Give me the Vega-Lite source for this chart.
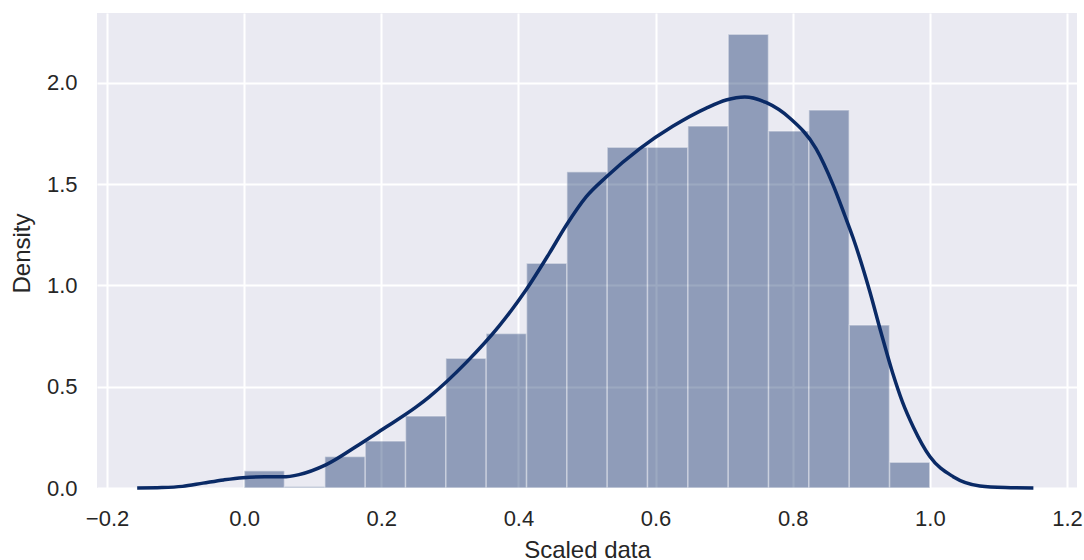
{
  "$schema": "https://vega.github.io/schema/vega-lite/v6.json",
  "width": 980,
  "height": 475,
  "autosize": {"type": "none"},
  "padding": {"left": 97, "top": 13, "right": 7, "bottom": 72},
  "background": "white",
  "config": {
    "view": {"fill": "#eaeaf2", "stroke": null},
    "font": "Liberation Sans",
    "axis": {
      "domain": false,
      "ticks": false,
      "tickSize": 0,
      "grid": true,
      "gridColor": "#ffffff",
      "gridWidth": 2,
      "labelFont": "Liberation Sans",
      "labelFontSize": 22,
      "labelColor": "#262626",
      "labelPadding": 20,
      "labelFlush": false,
      "titleFont": "Liberation Sans",
      "titleFontSize": 24,
      "titleFontWeight": "normal",
      "titleColor": "#262626"
    }
  },
  "datasets": {
    "bins": [
      {"bin_start": 0.0, "bin_end": 0.0588, "density": 0.085},
      {"bin_start": 0.0588, "bin_end": 0.1176, "density": 0.008},
      {"bin_start": 0.1176, "bin_end": 0.1765, "density": 0.155},
      {"bin_start": 0.1765, "bin_end": 0.2353, "density": 0.232},
      {"bin_start": 0.2353, "bin_end": 0.2941, "density": 0.355},
      {"bin_start": 0.2941, "bin_end": 0.3529, "density": 0.640},
      {"bin_start": 0.3529, "bin_end": 0.4118, "density": 0.763},
      {"bin_start": 0.4118, "bin_end": 0.4706, "density": 1.109},
      {"bin_start": 0.4706, "bin_end": 0.5294, "density": 1.561},
      {"bin_start": 0.5294, "bin_end": 0.5882, "density": 1.682},
      {"bin_start": 0.5882, "bin_end": 0.6471, "density": 1.682},
      {"bin_start": 0.6471, "bin_end": 0.7059, "density": 1.787},
      {"bin_start": 0.7059, "bin_end": 0.7647, "density": 2.239},
      {"bin_start": 0.7647, "bin_end": 0.8235, "density": 1.762},
      {"bin_start": 0.8235, "bin_end": 0.8824, "density": 1.866},
      {"bin_start": 0.8824, "bin_end": 0.9412, "density": 0.805},
      {"bin_start": 0.9412, "bin_end": 1.0, "density": 0.127}
    ],
    "kde": [
      {"x": -0.156, "y": 0.0},
      {"x": -0.12, "y": 0.002},
      {"x": -0.09, "y": 0.008},
      {"x": -0.06, "y": 0.024},
      {"x": -0.03, "y": 0.04},
      {"x": -0.002, "y": 0.051},
      {"x": 0.03, "y": 0.055},
      {"x": 0.056, "y": 0.055},
      {"x": 0.08, "y": 0.066},
      {"x": 0.119, "y": 0.114},
      {"x": 0.168, "y": 0.215},
      {"x": 0.202, "y": 0.29},
      {"x": 0.251, "y": 0.4},
      {"x": 0.27, "y": 0.45},
      {"x": 0.324, "y": 0.62},
      {"x": 0.372, "y": 0.8},
      {"x": 0.411, "y": 0.977},
      {"x": 0.445, "y": 1.158},
      {"x": 0.47, "y": 1.298},
      {"x": 0.499, "y": 1.438},
      {"x": 0.528, "y": 1.535},
      {"x": 0.577, "y": 1.675},
      {"x": 0.625, "y": 1.785},
      {"x": 0.674, "y": 1.875},
      {"x": 0.703, "y": 1.915},
      {"x": 0.73, "y": 1.93},
      {"x": 0.761, "y": 1.903},
      {"x": 0.796, "y": 1.825},
      {"x": 0.834, "y": 1.675},
      {"x": 0.859, "y": 1.495},
      {"x": 0.876, "y": 1.345},
      {"x": 0.888, "y": 1.235},
      {"x": 0.912, "y": 0.975},
      {"x": 0.929, "y": 0.765},
      {"x": 0.946, "y": 0.565},
      {"x": 0.96, "y": 0.425},
      {"x": 0.976, "y": 0.3},
      {"x": 1.0, "y": 0.155},
      {"x": 1.034, "y": 0.056},
      {"x": 1.073, "y": 0.01},
      {"x": 1.11, "y": 0.002},
      {"x": 1.151, "y": 0.0}
    ]
  },
  "layer": [
    {
      "data": {"name": "bins"},
      "mark": {"type": "rect", "color": "#0a2a66", "opacity": 0.4, "stroke": "#ffffff", "strokeWidth": 1.5, "strokeOpacity": 0.5},
      "encoding": {
        "x": {
          "field": "bin_start",
          "type": "quantitative",
          "scale": {"domain": [-0.2146, 1.2146], "nice": false, "zero": false},
          "axis": {
            "values": [-0.2, 0.0, 0.2, 0.4, 0.6, 0.8, 1.0, 1.2],
            "format": ".1f",
            "title": "Scaled data",
            "titleAnchor": "middle",
            "titleAlign": "center",
            "titleBaseline": "alphabetic",
            "titleX": 490,
            "titleY": 69
          }
        },
        "x2": {"field": "bin_end"},
        "y": {
          "field": "density",
          "type": "quantitative",
          "scale": {"domain": [0, 2.3445], "nice": false},
          "axis": {
            "values": [0, 0.5, 1.0, 1.5, 2.0],
            "format": ".1f",
            "title": "Density",
            "titleAngle": 270,
            "titleAlign": "center",
            "titleBaseline": "alphabetic",
            "titleX": -68,
            "titleY": 240
          }
        },
        "y2": {"datum": 0}
      }
    },
    {
      "data": {"name": "kde"},
      "mark": {"type": "line", "color": "#0a2a66", "strokeWidth": 3.5, "interpolate": "monotone"},
      "encoding": {
        "x": {"field": "x", "type": "quantitative"},
        "y": {"field": "y", "type": "quantitative"}
      }
    }
  ]
}
